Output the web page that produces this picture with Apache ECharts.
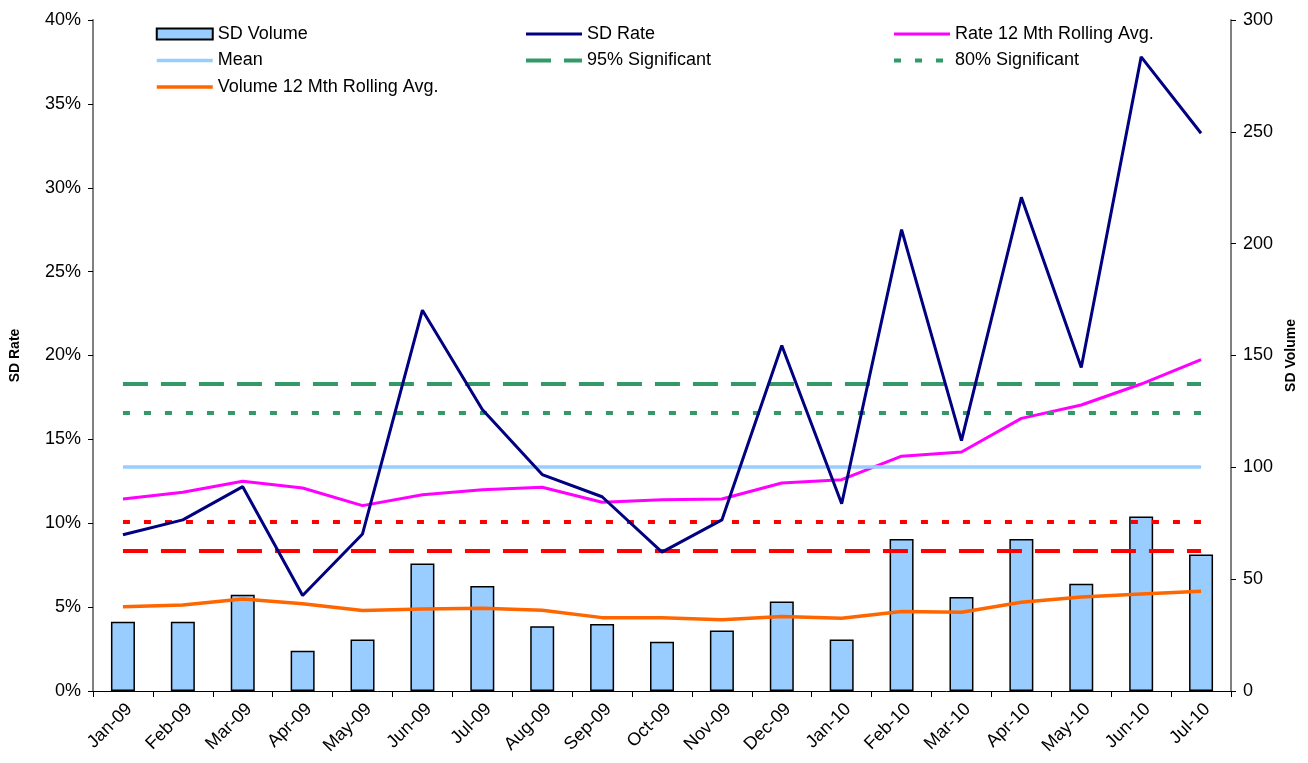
<!DOCTYPE html>
<html>
<head>
<meta charset="utf-8">
<title>SD Rate and Volume</title>
<script src="https://cdn.jsdelivr.net/npm/echarts@6.0.0/dist/echarts.min.js"></script>
<style>
  html, body { margin: 0; padding: 0; background: #fff; }
  #chart { width: 1308px; height: 763px; }
</style>
</head>
<body>
<div id="chart"></div>
<script>
// months (x axis)
const months = ['Jan-09', 'Feb-09', 'Mar-09', 'Apr-09', 'May-09', 'Jun-09', 'Jul-09', 'Aug-09', 'Sep-09', 'Oct-09',
  'Nov-09', 'Dec-09', 'Jan-10', 'Feb-10', 'Mar-10', 'Apr-10', 'May-10', 'Jun-10', 'Jul-10'];

// SD Volume bars, right axis
const sdVolume = [31, 31, 43, 18, 23, 57, 47, 29, 30, 22, 27, 40, 23, 68, 42, 68, 48, 78, 61];
// SD Rate, left axis (%)
const sdRate = [9.31, 10.2, 12.18, 5.69, 9.36, 22.7, 16.78, 12.9, 11.58, 8.28, 10.2, 20.6, 11.16, 27.5, 14.93, 29.43, 19.28, 37.8, 33.25];
// rolling averages
const rateRollingAvg = [11.45, 11.85, 12.5, 12.1, 11.05, 11.7, 12.0, 12.15, 11.25, 11.4, 11.45, 12.4, 12.6, 14.0, 14.25, 16.25, 17.05, 18.3, 19.75];
const volumeRollingAvg = [37.7, 38.5, 41.1, 39.0, 36.0, 36.7, 37.0, 36.1, 32.8, 32.8, 31.9, 33.3, 32.5, 35.5, 35.2, 39.7, 42.0, 43.4, 44.6];

// reference levels (%)
const meanLevel = 13.37;
const sig95Upper = 18.33;
const sig80Upper = 16.61;
const sig80Lower = 10.11;
const sig95Lower = 8.38;

const font = 'Liberation Sans, Arial, sans-serif';
const dashed = [25, 13];
const dotted = [7, 14];

// horizontal level drawn from first to last month
function levelLine(name, value, color, width, type) {
  return {
    name: name,
    type: 'line',
    data: [],
    symbol: 'none',
    itemStyle: { color: color },
    lineStyle: { color: color, width: width, type: type },
    markLine: {
      silent: true,
      symbol: 'none',
      label: { show: false },
      lineStyle: { color: color, width: width, type: type },
      data: [[{ coord: [months[0], value] }, { coord: [months[months.length - 1], value] }]]
    },
    z: 3
  };
}

// legend entry for a line: hide the marker, keep the line
function lineItem(name) {
  return { name: name, itemStyle: { opacity: 0 } };
}

const legendCommon = {
  orient: 'vertical',
  top: 25,
  itemWidth: 56,
  itemHeight: 11,
  itemGap: 8.5,
  padding: 0,
  selectedMode: false,
  lineStyle: { width: 'inherit' },
  textStyle: { fontSize: 18, fontFamily: font, color: '#000', lineHeight: 18 }
};

const chart = echarts.init(document.getElementById('chart'));
chart.setOption({
  animation: false,
  backgroundColor: '#fff',
  grid: { left: 92, right: 77, top: 20, bottom: 72 },
  legend: [
    Object.assign({ left: 155, data: [{ name: 'SD Volume', icon: 'rect' }, lineItem('Mean'), lineItem('Volume 12 Mth Rolling Avg.')] }, legendCommon),
    Object.assign({ left: 524, data: [lineItem('SD Rate'), lineItem('95% Significant')] }, legendCommon),
    Object.assign({ left: 892, data: [lineItem('Rate 12 Mth Rolling Avg.'), lineItem('80% Significant')] }, legendCommon)
  ],
  xAxis: {
    type: 'category',
    data: months,
    boundaryGap: true,
    axisLine: { lineStyle: { color: '#000', width: 1 } },
    axisTick: { show: true, length: 6, lineStyle: { color: '#000' } },
    axisLabel: { rotate: 45, interval: 0, fontSize: 18, fontFamily: font, color: '#000', margin: 9, verticalAlign: 'top' },
    splitLine: { show: false }
  },
  yAxis: [
    {
      type: 'value',
      position: 'left',
      min: 0,
      max: 40,
      interval: 5,
      name: 'SD Rate',
      nameLocation: 'middle',
      nameRotate: 90,
      nameGap: 71,
      nameTextStyle: { fontSize: 14, fontWeight: 'bold', fontFamily: font, color: '#000' },
      axisLine: { show: true, lineStyle: { color: '#808080', width: 2 } },
      axisTick: { show: true, length: 5, lineStyle: { color: '#000' } },
      axisLabel: { formatter: '{value}%', fontSize: 18, fontFamily: font, color: '#000', margin: 12 },
      splitLine: { show: false }
    },
    {
      type: 'value',
      position: 'right',
      min: 0,
      max: 300,
      interval: 50,
      name: 'SD Volume',
      nameLocation: 'middle',
      nameRotate: 90,
      nameGap: 52,
      nameTextStyle: { fontSize: 14, fontWeight: 'bold', fontFamily: font, color: '#000' },
      axisLine: { show: true, lineStyle: { color: '#808080', width: 2 } },
      axisTick: { show: true, length: 5, lineStyle: { color: '#000' } },
      axisLabel: { fontSize: 18, fontFamily: font, color: '#000', margin: 12 },
      splitLine: { show: false }
    }
  ],
  series: [
    {
      name: 'SD Volume',
      type: 'bar',
      yAxisIndex: 1,
      data: sdVolume,
      barWidth: 24,
      itemStyle: { color: '#99CCFF', borderColor: '#000', borderWidth: 1.5 },
      z: 1
    },
    levelLine('Mean', meanLevel, '#99CCFF', 3.5, 'solid'),
    levelLine('95% Significant', sig95Upper, '#339966', 4, dashed),
    levelLine('80% Significant', sig80Upper, '#339966', 4, dotted),
    levelLine('Lower 80%', sig80Lower, '#FF0000', 4, dotted),
    levelLine('Lower 95%', sig95Lower, '#FF0000', 4, dashed),
    {
      name: 'Volume 12 Mth Rolling Avg.',
      type: 'line',
      yAxisIndex: 1,
      data: volumeRollingAvg,
      symbol: 'none',
      itemStyle: { color: '#FF6600' },
      lineStyle: { color: '#FF6600', width: 3.5 },
      z: 4
    },
    {
      name: 'Rate 12 Mth Rolling Avg.',
      type: 'line',
      data: rateRollingAvg,
      symbol: 'none',
      itemStyle: { color: '#FF00FF' },
      lineStyle: { color: '#FF00FF', width: 3 },
      z: 4
    },
    {
      name: 'SD Rate',
      type: 'line',
      data: sdRate,
      symbol: 'none',
      itemStyle: { color: '#000080' },
      lineStyle: { color: '#000080', width: 3 },
      z: 5
    }
  ]
});
</script>
</body>
</html>
